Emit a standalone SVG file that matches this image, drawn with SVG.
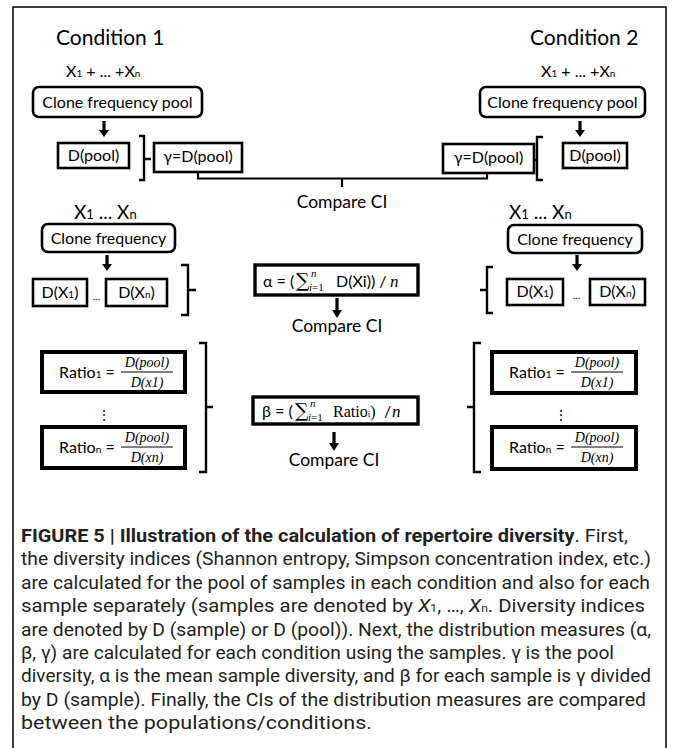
<svg xmlns="http://www.w3.org/2000/svg" width="673" height="748" viewBox="0 0 673 748">
<style>
text{font-family:Lato,"Liberation Sans",sans-serif;fill:#000}
.t{font-size:16px}
.c{text-anchor:middle}
.h{font-size:21px}
.big{font-size:19px}
.cmp{font-size:17.5px}
.sub{font-size:10px}
.m{font-family:"Liberation Serif","DejaVu Serif",serif}
.mi{font-family:"Liberation Serif","DejaVu Serif",serif;font-style:italic}
.sum{font-family:"DejaVu Serif",serif;font-size:19px}
.rbox{fill:#fff;stroke:#000;stroke-width:2.6}
.box{fill:#fff;stroke:#000;stroke-width:2.6}
.tbox{fill:#fff;stroke:#000;stroke-width:3.4}
.xbox{fill:#fff;stroke:#000;stroke-width:4}
.br{fill:none;stroke:#000;stroke-width:2.4}
.ln{fill:none;stroke:#000;stroke-width:2.2}
.arr{fill:#000}
.cap{font-family:Roboto,"Liberation Sans",sans-serif;font-size:18.5px;fill:#231f20}
.capb{font-weight:bold}
</style>
<defs>
<path id="arrowDown" d="M-1.6,0 H1.6 V9 H5 L0,16 L-5,9 H-1.6 Z"/>
</defs>

<path d="M13,748 V7 H666 V748" fill="none" stroke="#000" stroke-width="1.5"/>

<g id="connectors">
<path class="ln" d="M198,172 V178.5 H487 V172"/>
<path class="ln" d="M342,178.5 V187"/>
<path class="br" d="M139,136 H144 V180 H139 M144,159 H151"/>
<path class="br" d="M543,137 H537 V180 H543 M537,160 H531"/>
<path class="br" d="M181,265 H188 V315 H181 M188,290 H196"/>
<path class="br" d="M493,267 H487 V313 H493 M487,290 H480"/>
<path class="br" d="M199,343 H206 V472 H199 M206,407 H213"/>
<path class="br" d="M481,343 H474 V472 H481 M474,407 H467"/>
<use href="#arrowDown" class="arr" x="104" y="121"/>
<use href="#arrowDown" class="arr" x="580" y="121"/>
<use href="#arrowDown" class="arr" x="107" y="255"/>
<use href="#arrowDown" class="arr" x="577" y="255"/>
<path class="arr" d="M335.4,298 H338.6 V310 H342 L337,318 L332,310 H335.4 Z"/>
<path class="arr" d="M332.4,432 H335.6 V443 H339 L334,451 L329,443 H332.4 Z"/>
</g>

<g id="condition1-title"><text class="h" x="56" y="45">Condition 1</text></g>
<g id="condition2-title"><text class="h" x="530" y="45">Condition 2</text></g>

<g id="pool-label-1"><text class="t" x="66" y="77">X<tspan class="sub">1</tspan> + ... +X<tspan class="sub">n</tspan></text></g>
<g id="pool-label-2"><text class="t" x="541" y="77">X<tspan class="sub">1</tspan> + ... +X<tspan class="sub">n</tspan></text></g>

<g id="pool1"><rect class="rbox" x="33" y="87" width="169" height="30" rx="6"/><text class="t c" x="117.5" y="108">Clone frequency pool</text></g>
<g id="pool2"><rect class="rbox" x="480" y="87" width="165" height="30" rx="6"/><text class="t c" x="562.5" y="108">Clone frequency pool</text></g>

<g id="dpool1"><rect class="box" x="58" y="143" width="71" height="25"/><text class="t c" x="93.5" y="161">D(pool)</text></g>
<g id="gamma1"><rect class="box" x="154" y="143" width="88" height="29"/><text class="t c" x="198" y="162">γ=D(pool)</text></g>
<g id="dpool2"><rect class="box" x="563" y="143" width="64" height="25"/><text class="t c" x="595" y="161">D(pool)</text></g>
<g id="gamma2"><rect class="box" x="443" y="144" width="91" height="29"/><text class="t c" x="488.5" y="163">γ=D(pool)</text></g>

<g id="compare-gamma"><text class="cmp c" x="342" y="208">Compare CI</text></g>

<g id="samples-label-1"><text class="big" x="74" y="219">X<tspan font-size="13">1</tspan> ... X<tspan font-size="13">n</tspan></text></g>
<g id="samples-label-2"><text class="big" x="509" y="219">X<tspan font-size="13">1</tspan> ... X<tspan font-size="13">n</tspan></text></g>

<g id="clonefreq1"><rect class="rbox" x="42" y="224" width="133" height="28" rx="6"/><text class="t c" x="108.5" y="244">Clone frequency</text></g>
<g id="clonefreq2"><rect class="rbox" x="508" y="225" width="134" height="28" rx="6"/><text class="t c" x="575" y="245">Clone frequency</text></g>

<g id="dx1-1"><rect class="box" x="33" y="279" width="54" height="27"/><text class="t c" x="60" y="298">D(X<tspan class="sub">1</tspan>)</text></g>
<g id="dots-1"><text x="96.5" y="300" class="c" font-size="10">...</text></g>
<g id="dxn-1"><rect class="box" x="106" y="279" width="61" height="27"/><text class="t c" x="136.5" y="298">D(X<tspan class="sub">n</tspan>)</text></g>

<g id="dx1-2"><rect class="box" x="507" y="279" width="56" height="26"/><text class="t c" x="535" y="297">D(X<tspan class="sub">1</tspan>)</text></g>
<g id="dots-2"><text x="576.5" y="299" class="c" font-size="10">...</text></g>
<g id="dxn-2"><rect class="box" x="590" y="279" width="55" height="26"/><text class="t c" x="617.5" y="297">D(X<tspan class="sub">n</tspan>)</text></g>

<g id="alpha"><rect class="tbox" x="255" y="265" width="163" height="30"/>
<text class="t" y="287"><tspan x="263">α = (</tspan><tspan class="sum" x="296">∑</tspan><tspan class="mi" x="311" y="277" font-size="11">n</tspan><tspan class="mi" x="309" y="291" font-size="11">i</tspan><tspan class="m" font-size="11">=1</tspan><tspan x="336" y="287">D(Xi)) /</tspan><tspan class="mi" x="390" font-size="17">n</tspan></text></g>
<g id="compare-alpha"><text class="cmp c" x="337" y="332">Compare CI</text></g>

<g id="beta"><rect class="tbox" x="253" y="397" width="165" height="27"/>
<text class="t" y="417"><tspan x="262">β = (</tspan><tspan class="sum" x="295">∑</tspan><tspan class="mi" x="310" y="407" font-size="11">n</tspan><tspan class="mi" x="308" y="421" font-size="11">i</tspan><tspan class="m" font-size="11">=1</tspan><tspan class="m" x="333" y="417" font-size="16">Ratio<tspan font-size="9">i</tspan>)</tspan><tspan x="384">/</tspan><tspan class="mi" x="392" font-size="17">n</tspan></text></g>
<g id="compare-beta"><text class="cmp c" x="334" y="466">Compare CI</text></g>

<g id="ratio1-1"><rect class="xbox" x="42" y="352" width="143" height="40"/>
<text class="t" x="59" y="378" font-size="17">Ratio<tspan class="sub" font-size="11">1</tspan> =</text>
<text class="mi c" x="147" y="367" font-size="14">D(pool)</text><path d="M121,372 H173" stroke="#000" stroke-width="1"/><text class="mi c" x="147" y="387" font-size="14">D(x1)</text></g>
<g id="vdots-1"><text class="c" x="104" y="420" font-size="14">⋮</text></g>
<g id="ration-1"><rect class="xbox" x="42" y="427" width="143" height="41"/>
<text class="t" x="59" y="453" font-size="17">Ratio<tspan class="sub" font-size="11">n</tspan> =</text>
<text class="mi c" x="147" y="442" font-size="14">D(pool)</text><path d="M121,447 H173" stroke="#000" stroke-width="1"/><text class="mi c" x="147" y="462" font-size="14">D(xn)</text></g>

<g id="ratio1-2"><rect class="xbox" x="492" y="352" width="144" height="41"/>
<text class="t" x="509" y="378" font-size="17">Ratio<tspan class="sub" font-size="11">1</tspan> =</text>
<text class="mi c" x="597" y="367" font-size="14">D(pool)</text><path d="M571,372 H623" stroke="#000" stroke-width="1"/><text class="mi c" x="597" y="387" font-size="14">D(x1)</text></g>
<g id="vdots-2"><text class="c" x="561" y="420" font-size="14">⋮</text></g>
<g id="ration-2"><rect class="xbox" x="492" y="427" width="144" height="42"/>
<text class="t" x="509" y="453" font-size="17">Ratio<tspan class="sub" font-size="11">n</tspan> =</text>
<text class="mi c" x="597" y="442" font-size="14">D(pool)</text><path d="M571,447 H623" stroke="#000" stroke-width="1"/><text class="mi c" x="597" y="462" font-size="14">D(xn)</text></g>

<g id="caption">
<text class="cap" x="21" y="542" textLength="607" lengthAdjust="spacingAndGlyphs"><tspan class="capb">FIGURE 5 | Illustration of the calculation of repertoire diversity</tspan>. First,</text>
<text class="cap" x="21" y="565.4" textLength="630" lengthAdjust="spacingAndGlyphs">the diversity indices (Shannon entropy, Simpson concentration index, etc.)</text>
<text class="cap" x="21" y="588.8" textLength="629" lengthAdjust="spacingAndGlyphs">are calculated for the pool of samples in each condition and also for each</text>
<text class="cap" x="21" y="612.2" textLength="624" lengthAdjust="spacingAndGlyphs">sample separately (samples are denoted by <tspan font-style="italic">X</tspan><tspan font-size="11">1</tspan>, …, <tspan font-style="italic">X</tspan><tspan font-size="11">n</tspan>. Diversity indices</text>
<text class="cap" x="21" y="635.6" textLength="630" lengthAdjust="spacingAndGlyphs">are denoted by D (sample) or D (pool)). Next, the distribution measures (α,</text>
<text class="cap" x="21" y="659" textLength="593" lengthAdjust="spacingAndGlyphs">β, γ) are calculated for each condition using the samples. γ is the pool</text>
<text class="cap" x="21" y="682.4" textLength="630" lengthAdjust="spacingAndGlyphs">diversity, α is the mean sample diversity, and β for each sample is γ divided</text>
<text class="cap" x="21" y="705.8" textLength="625" lengthAdjust="spacingAndGlyphs">by D (sample). Finally, the CIs of the distribution measures are compared</text>
<text class="cap" x="21" y="729.2" textLength="351" lengthAdjust="spacingAndGlyphs">between the populations/conditions.</text>
</g>
</svg>
